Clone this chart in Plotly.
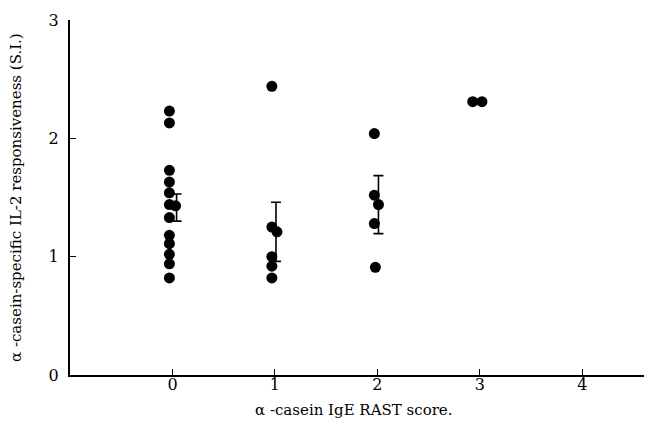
import plotly.graph_objects as go

# RAST score groups (x offsets are small jitter)
score0_x = [-0.03] * 6 + [0.03] + [-0.03] * 6
score0_y = [2.23, 2.13, 1.73, 1.63, 1.54, 1.44, 1.43, 1.33, 1.18, 1.11, 1.02, 0.94, 0.82]
score1_x = [-0.03, -0.03, 0.02, -0.03, -0.03, -0.03]
score1_y = [2.44, 1.25, 1.21, 1.00, 0.92, 0.82]
score2_x = [-0.03, -0.03, 0.01, -0.03, -0.02]
score2_y = [2.04, 1.52, 1.44, 1.28, 0.91]
score3_x = [-0.07, 0.02]
score3_y = [2.31, 2.31]

# mean ± SE bars
bar_x = [0.04, 1.01, 2.01]
bar_mean = [1.415, 1.21, 1.44]
bar_err = [0.115, 0.25, 0.245]

x_ticks = [0, 1, 2, 3, 4]
y_ticks = [0, 1, 2, 3]

fig = go.Figure()
fig.add_trace(go.Scatter(
    x=bar_x, y=bar_mean, mode="markers",
    marker=dict(size=1, color="rgba(0,0,0,0)"),
    error_y=dict(type="data", array=bar_err, visible=True, color="black", thickness=1.6, width=5),
    showlegend=False, hoverinfo="skip"))
xs = score0_x + [1 + v for v in score1_x] + [2 + v for v in score2_x] + [3 + v for v in score3_x]
ys = score0_y + score1_y + score2_y + score3_y
fig.add_trace(go.Scatter(
    x=xs, y=ys, mode="markers",
    marker=dict(size=11, color="black"),
    showlegend=False))

# page body has an 8px margin: figure coordinates = screen pixels - 8
OFF = 8
W, H = 652 - OFF, 426 - OFF
L, R, T, B = 70 - OFF, 2, 20 - OFF, H - (375 - OFF)
pw, ph = W - L - R, H - T - B

def px(x):
    return (x - OFF - L) / pw

def py(y):
    return (H - B - (y - OFF)) / ph

font = "DejaVu Serif, Liberation Serif, serif"
fig.update_layout(
    width=W, height=H,
    margin=dict(l=L, r=R, t=T, b=B, autoexpand=False),
    paper_bgcolor="white", plot_bgcolor="white",
    font=dict(family=font, size=16, color="black"),
    xaxis=dict(range=[-1.0, 4.66], tickvals=x_ticks, ticks="inside", ticklen=6,
               tickwidth=1, tickcolor="black", showline=True, linecolor="black",
               linewidth=2, showgrid=False, zeroline=False, ticklabelstandoff=-6,
               tickfont=dict(size=16)),
    yaxis=dict(range=[0, 3], tickvals=y_ticks, ticks="inside", ticklen=6,
               tickwidth=1, tickcolor="black", showline=True, linecolor="black",
               linewidth=2, showgrid=False, zeroline=False, ticklabelstandoff=6,
               tickfont=dict(size=16)),
    annotations=[
        dict(text="α -casein IgE RAST score.", xref="paper", yref="paper",
             x=px(353), y=py(410), xanchor="center", yanchor="middle",
             showarrow=False, font=dict(size=15)),
        dict(text="α -casein-specific IL-2 responsiveness (S.I.)", xref="paper", yref="paper",
             x=px(16), y=py(198), xanchor="center", yanchor="middle",
             showarrow=False, textangle=-90, font=dict(size=15)),
    ],
)
fig.write_html("out.html")
